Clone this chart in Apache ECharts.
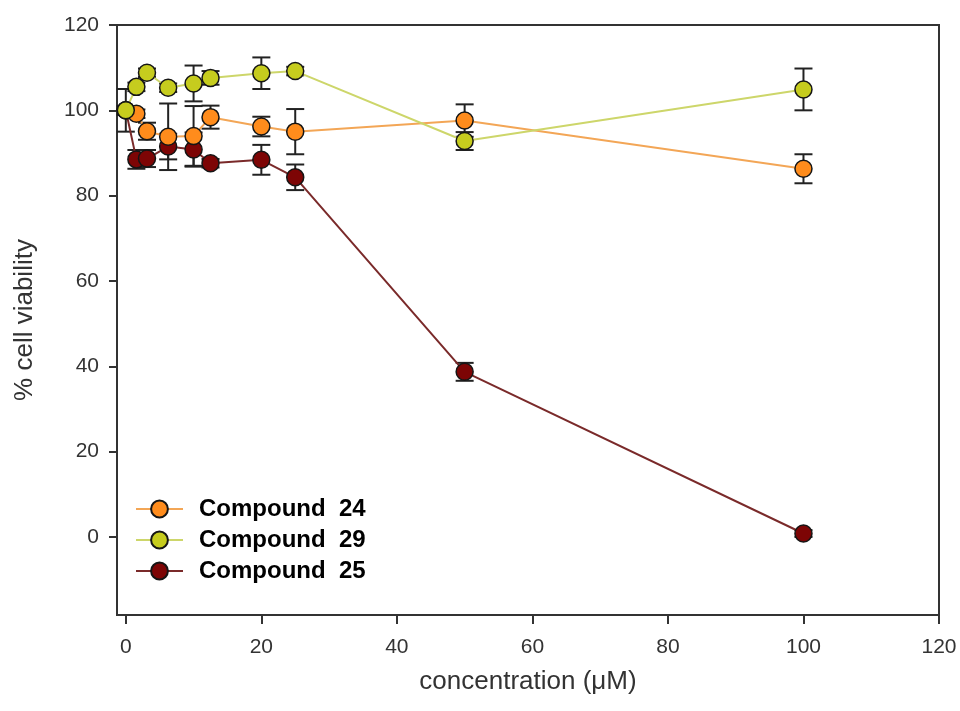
<!DOCTYPE html>
<html>
<head>
<meta charset="utf-8">
<script src="https://cdn.jsdelivr.net/npm/echarts@6/dist/echarts.min.js"></script>
<style>
  html, body { margin: 0; padding: 0; background: #fff; }
  #chart { width: 960px; height: 711px; }
</style>
</head>
<body>
<div id="chart"></div>
<script>
// concentrations (µM)
const conc = [0, 1.5625, 3.125, 6.25, 10, 12.5, 20, 25, 50, 100]
// % cell viability and error bars per compound
const c24 = [100, 99.2, 95.1, 93.8, 94.0, 98.4, 96.2, 95.0, 97.6, 86.3]
const c24err = [1, 1, 2, 7.8, 7, 2.7, 2.3, 5.3, 3.8, 3.4]
const c29 = [100, 105.5, 108.8, 105.3, 106.3, 107.6, 108.7, 109.2, 92.8, 104.9]
const c29err = [5, 1, 1, 1, 4.2, 1.6, 3.7, 1, 2.1, 4.9]
const c25 = [100, 88.5, 88.7, 91.5, 90.8, 87.6, 88.4, 84.3, 38.7, 0.8]
const c25err = [1, 2.2, 2, 3, 4, 1, 3.5, 3, 2.1, 0.8]
const xTicks = [0, 20, 40, 60, 80, 100, 120]
const yTicks = [0, 20, 40, 60, 80, 100, 120]

const FONT = 'Liberation Sans, Arial, sans-serif'

const compounds = [
  { name: 'Compound  25', vals: c25, err: c25err, fill: '#7d0505', line: '#7a2a2a' },
  { name: 'Compound  24', vals: c24, err: c24err, fill: '#ff8c1c', line: '#f3a656' },
  { name: 'Compound  29', vals: c29, err: c29err, fill: '#c6cc1e', line: '#cdd66a' }
]

function errRender(params, api) {
  const x = api.value(0)
  const top = api.coord([x, api.value(2)])
  const bot = api.coord([x, api.value(1)])
  const w = 9
  const st = { stroke: '#222', lineWidth: 2 }
  return {
    type: 'group',
    children: [
      { type: 'line', shape: { x1: top[0], y1: top[1], x2: bot[0], y2: bot[1] }, style: st },
      { type: 'line', shape: { x1: top[0] - w, y1: top[1], x2: top[0] + w, y2: top[1] }, style: st },
      { type: 'line', shape: { x1: bot[0] - w, y1: bot[1], x2: bot[0] + w, y2: bot[1] }, style: st }
    ]
  }
}

const series = []
compounds.forEach(c => {
  // error bars, kept out of the legend
  series.push({
    type: 'custom',
    name: c.name + ' err',
    renderItem: errRender,
    encode: { x: 0, y: [1, 2] },
    data: conc.map((x, i) => [x, c.vals[i] - c.err[i], c.vals[i] + c.err[i]]),
    z: 2,
    silent: true
  })
})
compounds.forEach(c => {
  series.push({
    type: 'line',
    name: c.name,
    data: conc.map((x, i) => [x, c.vals[i]]),
    symbol: 'circle',
    symbolSize: 17,
    itemStyle: { color: c.fill, borderColor: '#151515', borderWidth: 1.5 },
    lineStyle: { color: c.line, width: 2 },
    z: 3
  })
})

const chart = echarts.init(document.getElementById('chart'))
chart.setOption({
  animation: false,
  backgroundColor: '#fff',
  grid: {
    left: 117, right: 21, top: 25, bottom: 96,
    show: true, borderColor: '#333', borderWidth: 2
  },
  legend: {
    data: ['Compound  24', 'Compound  29', 'Compound  25'],
    orient: 'vertical',
    left: 135,
    top: 497,
    padding: 0,
    itemWidth: 47,
    itemHeight: 21,
    itemGap: 7,
    textStyle: { fontFamily: FONT, fontSize: 24, fontWeight: 'bold', color: '#000', padding: [0, 0, 0, 11] }
  },
  xAxis: {
    type: 'value',
    min: -1.3,
    max: 120,
    name: 'concentration (μM)',
    nameLocation: 'middle',
    nameGap: 54,
    nameTextStyle: { fontFamily: FONT, fontSize: 26, color: '#333' },
    axisLine: { show: true, onZero: false, lineStyle: { color: '#333', width: 2 } },
    axisTick: { show: true, length: 9, customValues: xTicks, lineStyle: { color: '#333', width: 2 } },
    axisLabel: { customValues: xTicks, fontFamily: FONT, fontSize: 21, color: '#333', margin: 22 },
    splitLine: { show: false }
  },
  yAxis: {
    type: 'value',
    min: -18.3,
    max: 120,
    name: '% cell viability',
    nameLocation: 'middle',
    nameGap: 79,
    nameTextStyle: { fontFamily: FONT, fontSize: 26, color: '#333' },
    axisLine: { show: true, onZero: false, lineStyle: { color: '#333', width: 2 } },
    axisTick: { show: true, length: 8, customValues: yTicks, lineStyle: { color: '#333', width: 2 } },
    axisLabel: { customValues: yTicks, fontFamily: FONT, fontSize: 21, color: '#333', margin: 18 },
    splitLine: { show: false }
  },
  series: series
})
</script>
</body>
</html>
